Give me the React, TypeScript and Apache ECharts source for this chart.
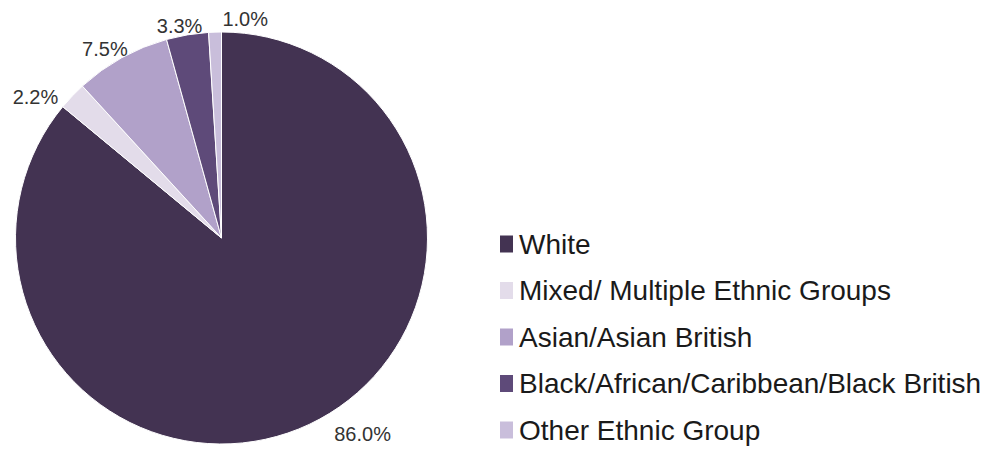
import React, { useEffect, useRef } from "react";
import * as echarts from "echarts";

const categories = [
  "White",
  "Mixed/ Multiple Ethnic Groups",
  "Asian/Asian British",
  "Black/African/Caribbean/Black British",
  "Other Ethnic Group",
];
const shares = [86.0, 2.2, 7.5, 3.3, 1.0];
const colors = ["#433352", "#e3dcea", "#b1a1c9", "#5e4a79", "#c9bedb"];
// label nudges (px) relative to ECharts' outside-label anchor
const labelNudgeX = [20, -9, 11, 20, 58];
const labelNudgeY = [10, 1, -9, -9, -13];

export default function App() {
  const ref = useRef<HTMLDivElement>(null);
  useEffect(() => {
    if (!ref.current) return;
    const chart = echarts.init(ref.current, null, { renderer: "svg" });
    chart.setOption({
      animation: false,
      backgroundColor: "#ffffff",
      color: colors,
      legend: {
        orient: "vertical",
        left: 498,
        top: 230,
        padding: 0,
        itemWidth: 15,
        itemHeight: 19,
        itemGap: 18.5,
        icon: "rect",
        data: categories,
        textStyle: {
          fontFamily: "Liberation Sans, Arial, sans-serif",
          fontSize: 28,
          lineHeight: 28,
          color: "#1a1a1a",
        },
      },
      series: [
        {
          type: "pie",
          center: [221.5, 238],
          radius: 206,
          startAngle: 90,
          clockwise: true,
          avoidLabelOverlap: false,
          itemStyle: { borderColor: "#ffffff", borderWidth: 1 },
          label: {
            show: true,
            position: "outside",
            formatter: (p: any) => p.value.toFixed(1) + "%",
            fontFamily: "Liberation Sans, Arial, sans-serif",
            fontSize: 20,
            color: "#333333",
          },
          labelLine: { show: false, length: 0, length2: 0 },
          labelLayout: (p: any) => ({
            dx: labelNudgeX[p.dataIndex],
            dy: labelNudgeY[p.dataIndex],
          }),
          emphasis: { disabled: true },
          data: categories.map((name, i) => ({ name, value: shares[i] })),
        },
      ],
    });
    return () => chart.dispose();
  }, []);
  return (
    <div
      ref={ref}
      style={{ position: "absolute", left: 0, top: 0, width: 988, height: 449 }}
    />
  );
}
